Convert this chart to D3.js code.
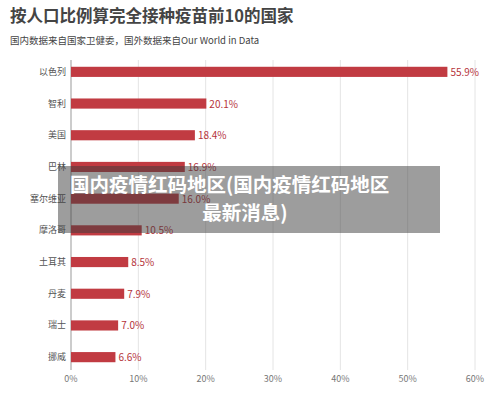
<!DOCTYPE html><html><head><meta charset="utf-8"><script src="https://d3js.org/d3.v7.min.js"></script>
<style>body{margin:0;background:#fff}</style></head><body><svg id="c" width="500" height="400"></svg>
<script>
const categories=["以色列","智利","美国","巴林","塞尔维亚","摩洛哥","土耳其","丹麦","瑞士","挪威"];
const values=[55.9,20.1,18.4,16.9,16.0,10.5,8.5,7.9,7.0,6.6];
const ticks=[0,10,20,30,40,50,60];
const svg=d3.select("#c");
const F="'Noto Sans CJK SC','Noto Sans',sans-serif";
svg.append("rect").attr("width",500).attr("height",400).attr("fill","#fff");
svg.append("text").attr("x",10).attr("y",22).attr("font-family",F).attr("font-size",16.5).attr("font-weight","bold").attr("fill","#444").text("按人口比例算完全接种疫苗前10的国家");
svg.append("text").attr("x",10).attr("y",44).attr("font-family",F).attr("font-size",9.5).attr("fill","#444").text("国内数据来自国家卫健委，国外数据来自Our World in Data");
const x=d3.scaleLinear().domain([0,60]).range([71,475]);
const y=d3.scaleBand().domain(categories).range([56,373]).paddingInner(0.68).paddingOuter(0.34);
svg.append("g").selectAll("line").data(ticks).join("line").attr("x1",d=>x(d)).attr("x2",d=>x(d)).attr("y1",60).attr("y2",370).attr("stroke",d=>d?"#e4e4e4":"#999").attr("stroke-width",1);
svg.append("g").selectAll("text").data(ticks).join("text").attr("x",d=>x(d)).attr("y",382).attr("text-anchor","middle").attr("font-family",F).attr("font-size",9).attr("fill","#777").text(d=>d+"%");
svg.append("g").selectAll("text").data(categories).join("text").attr("x",66).attr("y",d=>y(d)+y.bandwidth()/2+3).attr("text-anchor","end").attr("font-family",F).attr("font-size",9).attr("fill","#555").text(d=>d);
svg.append("g").selectAll("rect").data(values).join("rect").attr("x",x(0)).attr("y",(d,i)=>y(categories[i])).attr("width",d=>x(d)-x(0)).attr("height",y.bandwidth()).attr("fill","#c13b42");
svg.append("g").selectAll("text").data(values).join("text").attr("x",d=>x(d)+3).attr("y",(d,i)=>y(categories[i])+y.bandwidth()/2+4).attr("font-family",F).attr("font-size",10).attr("fill","#b5343b").text(d=>d.toFixed(1)+"%");
svg.append("rect").attr("x",58).attr("y",166).attr("width",382).attr("height",67).attr("fill","rgba(60,60,60,0.5)");
svg.append("text").attr("x",70).attr("y",192).attr("font-family",F).attr("font-size",19.5).attr("font-weight","bold").attr("fill","#fff").text("国内疫情红码地区(国内疫情红码地区");
svg.append("text").attr("x",245).attr("y",220).attr("text-anchor","middle").attr("font-family",F).attr("font-size",19.5).attr("font-weight","bold").attr("fill","#fff").text("最新消息)");
</script></body></html>
